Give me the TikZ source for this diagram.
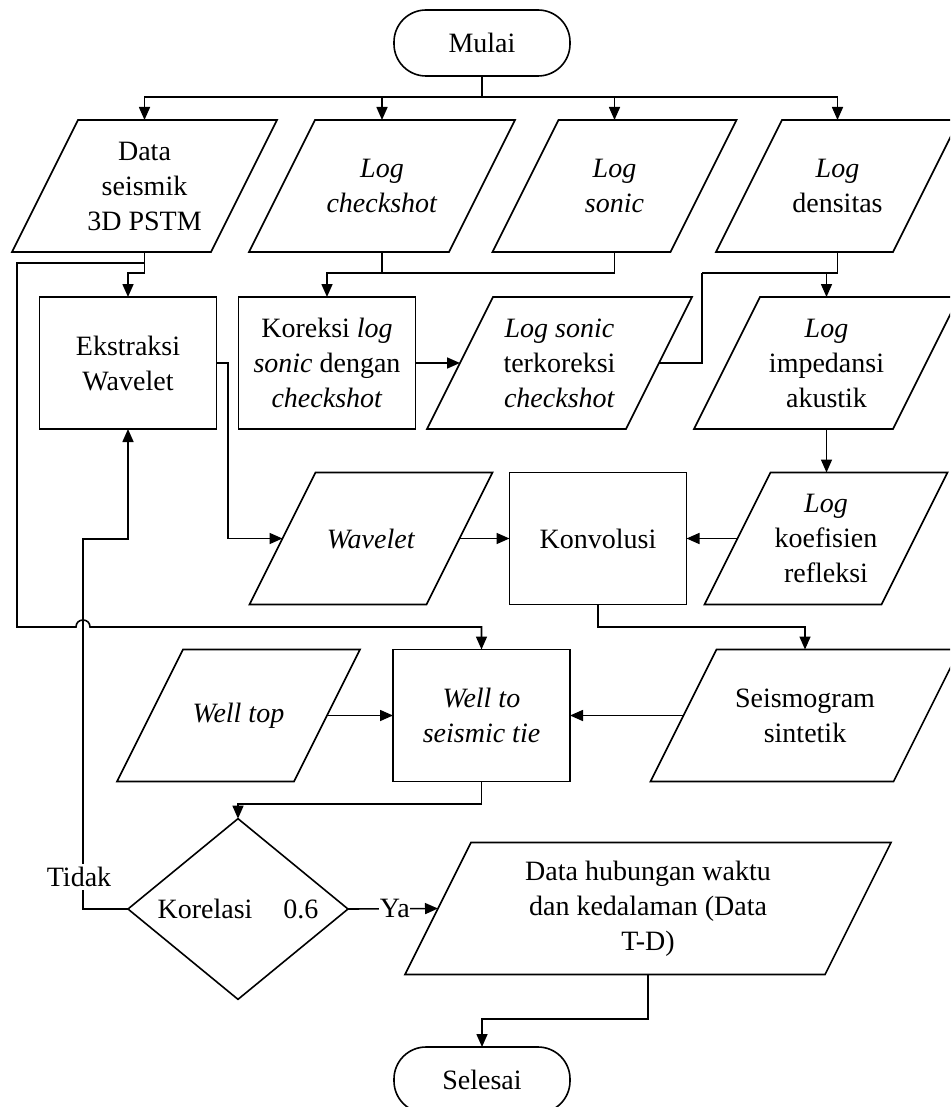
\documentclass[tikz,border=0pt]{standalone}
\usepackage{fontspec}
\setmainfont{Liberation Serif}
\usetikzlibrary{arrows.meta,shapes.geometric}

% input/output shape: an invisible node (its width is the mid-width)
% plus a parallelogram slanted by 66pt drawn round it
\newcommand\iobox[5]{%
  \node[io,minimum width=#4pt] (#1) at (#2,#3) {#5};
  \draw ([xshift=-33pt]#1.south west) -- ([xshift=33pt]#1.north west)
    -- ([xshift=33pt]#1.north east) -- ([xshift=-33pt]#1.south east) -- cycle;}

\begin{document}
\begin{tikzpicture}[x=1pt,y=-1pt,line width=1.6pt,line join=miter,
  every node/.style={font=\fontsize{28}{35}\selectfont},
  box/.style={draw,rectangle,minimum width=177pt,minimum height=132pt,
    inner sep=0pt,outer sep=0pt,align=center},
  io/.style={rectangle,minimum height=132pt,inner sep=0pt,outer sep=0pt,align=center},
  term/.style={draw,rectangle,rounded corners=32pt,minimum width=176pt,
    minimum height=66pt,inner sep=0pt,outer sep=0pt},
  decision/.style={draw,diamond,minimum width=220pt,minimum height=166pt,
    inner sep=0pt,outer sep=0pt},
  lbl/.style={fill=white,inner sep=0.5pt},
  arr/.style={-{Triangle[length=13pt,width=11pt]}}]

\useasboundingbox (0,0) rectangle (950,1107);
\clip (0,0) rectangle (950,1107);

% ---- nodes ----
\node[term] (mulai) at (482,43) {Mulai};

\iobox{dseis}{144.5}{186}{199}{Data\\seismik\\3D PSTM}
\iobox{lcheck}{382}{186}{200}{\textit{Log}\\\textit{checkshot}}
\iobox{lsonic}{614.5}{186}{178}{\textit{Log}\\\textit{sonic}}
\iobox{ldens}{837.5}{186}{177}{\textit{Log}\\densitas}

\node[box] (ekstr) at (128,363) {Ekstraksi\\Wavelet};
\node[box] (koreksi) at (327,363) {Koreksi \textit{log}\\\textit{sonic} dengan\\\textit{checkshot}};
\iobox{lterk}{559.5}{363}{199}{\textit{Log sonic}\\terkoreksi\\\textit{checkshot}}
\iobox{limp}{826.5}{363}{199}{\textit{Log}\\impedansi\\akustik}

\iobox{wave}{371}{538.5}{177}{\textit{Wavelet}}
\node[box] (konv) at (598,538.5) {Konvolusi};
\iobox{lkoef}{826}{538.5}{177}{\textit{Log}\\koefisien\\refleksi}

\iobox{wtop}{238.5}{715.5}{177}{\textit{Well top}}
\node[box] (wtie) at (481.5,715.5) {\textit{Well to}\\\textit{seismic tie}};
\iobox{seism}{805}{715.5}{243}{Seismogram\\sintetik}

\node[decision] (korel) at (238,909) {Korelasi\hspace{31pt}0.6};
\iobox{dtd}{648}{908.5}{420}{Data hubungan waktu\\dan kedalaman (Data\\T-D)}

\node[term] (selesai) at (482,1080) {Selesai};

% ---- connectors ----
\coordinate (split) at (482,97);
\draw (mulai.south) -- (split);
\draw[arr] (split) -| (dseis.north);
\draw[arr] (split) -| (lcheck.north);
\draw[arr] (split) -| (lsonic.north);
\draw[arr] (split) -| (ldens.north);

% seismic data feeds wavelet extraction and the well tie
\coordinate (sj) at (144.5,263);
\draw (dseis.south) -- (sj);
\draw[arr] (sj) -- (144.5,273) -| (ekstr.north);
\draw[arr] (sj) -- (17,263) -- (17,627) -- (76,627)
  .. controls (76,617.7) and (90,617.7) .. (90,627) -| (wtie.north);

% checkshot and sonic into the correction
\coordinate (cj) at (614.5,273);
\draw (lcheck.south) -- (lcheck.south |- cj);
\draw (lsonic.south) -- (cj);
\draw[arr] (cj) -| (koreksi.north);
\draw[arr] (koreksi.east) -- (lterk.west);

% corrected sonic and density into acoustic impedance
\coordinate (tj) at (702,273);
\draw (lterk.east) -| (tj);
\draw (ldens.south) |- (tj);
\draw[arr] (tj) -| (limp.north);
\draw[arr] (limp.south) -- (limp.south |- lkoef.north);

% convolution
\draw[arr] (ekstr.east) -- (228,363) |- (wave.west);
\draw[arr] (wave.east) -- (konv.west);
\draw[arr] (lkoef.west) -- (konv.east);
\draw[arr] (konv.south) -- (598,627) -| (seism.north);

% well tie
\draw[arr] (wtop.east) -- (wtie.west);
\draw[arr] (seism.west) -- (wtie.east);
\draw[arr] (wtie.south) -- (481.5,804) -| (korel.north);

% decision
\draw[arr] (korel.west) -- (83,909) -- (83,539) -| (ekstr.south);
\node[lbl,inner sep=3pt] (tidak) at (79,877) {Tidak};
\draw[arr] (korel.east) -- node[lbl,pos=0.52] (ya) {Ya} (dtd.west);
\draw[arr] (dtd.south) -- (648,1019) -| (selesai.north);

\end{tikzpicture}
\end{document}
